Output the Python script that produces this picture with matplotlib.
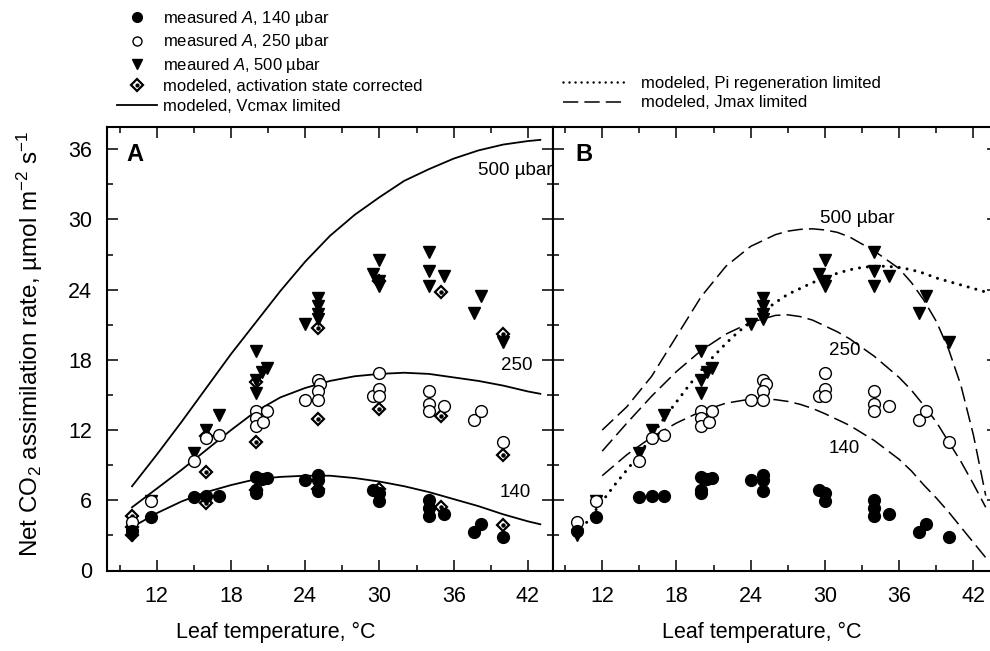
import matplotlib
matplotlib.use('Agg')
import matplotlib.pyplot as plt
from matplotlib.lines import Line2D
from matplotlib.legend_handler import HandlerTuple
from matplotlib.ticker import MultipleLocator

plt.rcParams['font.family'] = ['Liberation Sans', 'DejaVu Sans']
plt.rcParams['mathtext.fontset'] = 'custom'
plt.rcParams['mathtext.rm'] = 'Liberation Sans'
plt.rcParams['mathtext.it'] = 'Liberation Sans:italic'
plt.rcParams['mathtext.bf'] = 'Liberation Sans:bold'
plt.rcParams['mathtext.default'] = 'regular'

# ---------------- measured data ----------------
t140 = [10.0, 11.5, 15.0, 16.0, 17.0, 20.0, 20.0, 20.0, 20.5, 20.9, 24.0, 25.0, 25.0, 25.0,
        29.5, 30.0, 30.0, 34.0, 34.0, 34.0, 35.2, 37.6, 38.2, 40.0]
a140 = [3.4, 4.6, 6.3, 6.4, 6.4, 8.0, 6.9, 6.6, 7.8, 7.9, 7.7, 8.2, 7.7, 6.8,
        6.9, 6.6, 5.9, 6.0, 5.3, 4.7, 4.8, 3.3, 4.0, 2.9]

t250 = [10.0, 11.5, 15.0, 16.0, 17.0, 20.0, 20.0, 20.0, 20.6, 20.9, 24.0, 25.0, 25.2, 25.0, 25.0,
        29.5, 30.0, 30.0, 30.0, 34.0, 34.0, 34.0, 35.2, 37.6, 38.2, 40.0]
a250 = [4.15, 5.9, 9.4, 11.3, 11.6, 13.65, 13.0, 12.35, 12.65, 13.65, 14.6, 16.3, 15.9, 15.3, 14.6,
        14.9, 16.85, 15.55, 14.9, 15.3, 14.2, 13.6, 14.1, 12.9, 13.6, 10.95]

t500 = [10.0, 11.5, 15.0, 16.0, 17.0, 20.0, 20.0, 20.0, 20.5, 20.9, 24.0, 25.0, 25.0, 25.0, 25.0,
        29.5, 30.0, 30.0, 30.0, 34.0, 34.0, 34.0, 35.2, 37.6, 38.2, 40.0]
a500 = [3.0, 5.9, 10.0, 12.0, 13.3, 18.8, 16.3, 15.2, 17.0, 17.3, 21.1, 23.3, 22.6, 21.9, 21.5,
        25.3, 26.5, 24.7, 24.3, 27.2, 25.6, 24.3, 25.2, 22.0, 23.5, 19.5]

# modeled, activation state corrected (panel A)
t_act = [10, 10, 10, 16, 16, 16, 20, 20, 20, 25, 25, 25, 30, 30, 30, 35, 35, 35, 40, 40, 40]
a_act = [3.0, 3.7, 4.65, 5.8, 8.45, 11.5, 6.9, 11.0, 16.1, 7.0, 12.95, 20.75, 7.0, 13.8, 24.7,
         5.45, 13.2, 23.8, 3.9, 9.9, 20.25]

# ---------------- modeled curves ----------------
# Panel A: Vcmax limited (solid)
tv = [10, 12, 14, 16, 18, 20, 22, 24, 26, 28, 30, 32, 34, 36, 38, 40, 42, 43]
vc500 = [7.2, 9.9, 12.7, 15.6, 18.5, 21.2, 23.9, 26.4, 28.6, 30.4, 31.9, 33.3, 34.3, 35.2, 35.9, 36.4, 36.7, 36.8]
vc250 = [5.4, 7.0, 8.6, 10.3, 12.0, 13.6, 14.8, 15.6, 16.2, 16.6, 16.8, 16.9, 16.8, 16.5, 16.2, 15.8, 15.3, 15.1]
vc140 = [3.7, 4.9, 5.9, 6.7, 7.3, 7.8, 8.0, 8.1, 8.1, 7.9, 7.6, 7.2, 6.7, 6.1, 5.5, 4.8, 4.2, 3.95]

# Panel B: Jmax limited (dashed)
tj = [12, 14, 16, 18, 20, 22, 24, 26, 27, 28, 29, 30, 31, 32, 34, 36, 37, 38, 39, 40, 41, 42, 43]
jm500 = [12.0, 14.0, 16.6, 20.0, 23.4, 26.0, 27.7, 28.7, 29.0, 29.15, 29.2, 29.1, 28.9, 28.5, 27.3,
         25.8, 24.6, 23.1, 21.3, 18.9, 15.8, 11.6, 6.4]
jm250 = [10.2, 12.6, 14.9, 17.0, 18.8, 20.2, 21.2, 21.8, 21.85, 21.7, 21.4, 20.9, 20.4, 19.8, 18.3,
         16.5, 15.4, 14.1, 12.7, 11.0, 9.3, 7.4, 5.4]
jm140 = [8.1, 9.9, 11.4, 12.6, 13.6, 14.3, 14.65, 14.6, 14.45, 14.2, 13.85, 13.4, 12.9, 12.4, 11.1,
         9.5, 8.5, 7.3, 6.2, 5.0, 3.7, 2.4, 1.1]

# Panel B: Pi regeneration limited (dotted)
tp = [10, 11, 12, 13, 14, 15, 16, 17, 18, 19, 20, 21, 22, 23, 24, 25, 26, 27, 28, 29, 30,
      31, 32, 33, 34, 35, 36, 37, 38, 39, 40, 41, 42, 43]
pi500 = [3.0, 4.5, 5.9, 7.3, 8.6, 9.9, 11.5, 13.0, 14.4, 15.8, 17.1, 18.3, 19.4, 20.4, 21.2, 22.1,
         22.9, 23.6, 24.1, 24.6, 25.0, 25.4, 25.7, 25.9, 26.0, 26.0, 25.9, 25.7, 25.4, 25.0, 24.7,
         24.4, 24.1, 23.8]

W, H = 990, 651
fig = plt.figure(figsize=(W / 100, H / 100), dpi=100)
fig.patch.set_facecolor('white')

ax_left_px, ax_w_px = 107.3, 445.4
ax_bot_px, ax_top_px = 570.5, 127.0
axA = fig.add_axes([ax_left_px / W, 1 - ax_bot_px / H, ax_w_px / W, (ax_bot_px - ax_top_px) / H])
axB = fig.add_axes([(ax_left_px + ax_w_px) / W, 1 - ax_bot_px / H, ax_w_px / W, (ax_bot_px - ax_top_px) / H])

for ax in (axA, axB):
    ax.set_xlim(8, 44)
    ax.set_ylim(0, 37.9)
    ax.xaxis.set_major_locator(MultipleLocator(6))
    ax.xaxis.set_minor_locator(MultipleLocator(3))
    ax.yaxis.set_major_locator(MultipleLocator(6))
    ax.yaxis.set_minor_locator(MultipleLocator(3))
    ax.tick_params(which='both', direction='in', top=True, right=True, width=1.1, labelsize=15.5)
    ax.tick_params(which='major', length=8)
    ax.tick_params(which='minor', length=4.5)
    ax.tick_params(axis='x', pad=11)
    ax.tick_params(axis='y', pad=11)
    for s in ax.spines.values():
        s.set_linewidth(1.5)
axB.tick_params(labelleft=False)

circ_kw = dict(ls='none', marker='o', ms=8.5, mfc='black', mec='black', zorder=5)
open_kw = dict(ls='none', marker='o', ms=8.5, mfc='white', mec='black', mew=1.0, zorder=5)
tri_kw = dict(ls='none', marker='v', ms=8.5, mfc='black', mec='black', zorder=5)

# ---- Panel A ----
axA.plot(tv, vc500, color='black', lw=1.3, zorder=2)
axA.plot(tv, vc250, color='black', lw=1.3, zorder=2)
axA.plot(tv, vc140, color='black', lw=1.3, zorder=2)
axA.plot(t_act, a_act, ls='none', marker='D', ms=6.5, mfc='white', mec='black', mew=1.6, zorder=3)
axA.plot(t_act, a_act, ls='none', marker='o', ms=2.2, mfc='black', mec='black', zorder=3)
axA.plot(t500, a500, **tri_kw)
axA.plot(t250, a250, **open_kw)
axA.plot(t140, a140, **circ_kw)
axA.text(37.95, 34.2, '500 µbar', fontsize=13.5, va='center', ha='left', clip_on=True)
axA.text(39.85, 17.55, '250', fontsize=13.5, va='center', ha='left')
axA.text(39.75, 6.65, '140', fontsize=13.5, va='center', ha='left')
axA.text(0.043, 0.937, 'A', transform=axA.transAxes, fontsize=17, fontweight='bold', va='center', ha='left')

# ---- Panel B ----
dash = (0, (10, 4))
axB.plot(tj, jm500, color='black', lw=1.1, ls=dash, zorder=2)
axB.plot(tj, jm250, color='black', lw=1.1, ls=dash, zorder=2)
axB.plot(tj, jm140, color='black', lw=1.1, ls=dash, zorder=2)
axB.plot(tp, pi500, color='black', lw=2.2, ls=(0, (0.01, 2.6)), dash_capstyle='round', zorder=2)
axB.plot(t500, a500, **tri_kw)
axB.plot(t250, a250, **open_kw)
axB.plot(t140, a140, **circ_kw)
axB.text(29.6, 30.1, '500 µbar', fontsize=13.5, va='center', ha='left')
axB.text(30.3, 18.8, '250', fontsize=13.5, va='center', ha='left')
axB.text(30.3, 10.4, '140', fontsize=13.5, va='center', ha='left')
axB.text(0.05, 0.937, 'B', transform=axB.transAxes, fontsize=17, fontweight='bold', va='center', ha='left')

# ---- axis labels ----
fig.text(276 / W, 1 - 632 / H, 'Leaf temperature, °C', fontsize=15.5, ha='center', va='center')
fig.text(762 / W, 1 - 632 / H, 'Leaf temperature, °C', fontsize=15.5, ha='center', va='center')
fig.text(30 / W, 1 - 344 / H, 'Net CO$_2$ assimilation rate, µmol m$^{-2}$ s$^{-1}$',
         fontsize=17.5, rotation=90, ha='center', va='center')

# ---- legends ----
h1 = Line2D([], [], ls='none', marker='o', ms=7, mfc='black', mec='black')
h2 = Line2D([], [], ls='none', marker='o', ms=6.5, mfc='white', mec='black', mew=1.0)
h3 = Line2D([], [], ls='none', marker='v', ms=7, mfc='black', mec='black')
h4a = Line2D([], [], ls='none', marker='D', ms=6, mfc='white', mec='black', mew=1.6)
h4b = Line2D([], [], ls='none', marker='o', ms=2, mfc='black', mec='black')
h5 = Line2D([], [], color='black', lw=1.3)
leg1 = fig.legend([h1, h2, h3, (h4a, h4b), h5],
                  ['measured $\\mathit{A}$, 140 µbar', 'measured $\\mathit{A}$, 250 µbar',
                   'meaured $\\mathit{A}$, 500 µbar', 'modeled, activation state corrected',
                   'modeled, Vcmax limited'],
                  handler_map={tuple: HandlerTuple(ndivide=1)},
                  loc='upper left', bbox_to_anchor=(117 / W, 1 - 9 / H), frameon=False, fontsize=12,
                  handlelength=2.4, handletextpad=0.35, labelspacing=0.265, borderpad=0, borderaxespad=0)

h6 = Line2D([], [], color='black', lw=1.8, ls=(0, (0.01, 2.4)), dash_capstyle='round')
h7 = Line2D([], [], color='black', lw=1.1, ls=(0, (10, 4)))
leg2 = fig.legend([h6, h7], ['modeled, Pi regeneration limited', 'modeled, Jmax limited'],
                  loc='upper left', bbox_to_anchor=(563 / W, 1 - 76 / H), frameon=False, fontsize=12,
                  handlelength=3.7, handletextpad=1.0, labelspacing=0.265, borderpad=0, borderaxespad=0)

fig.savefig('out.png', dpi=100)
